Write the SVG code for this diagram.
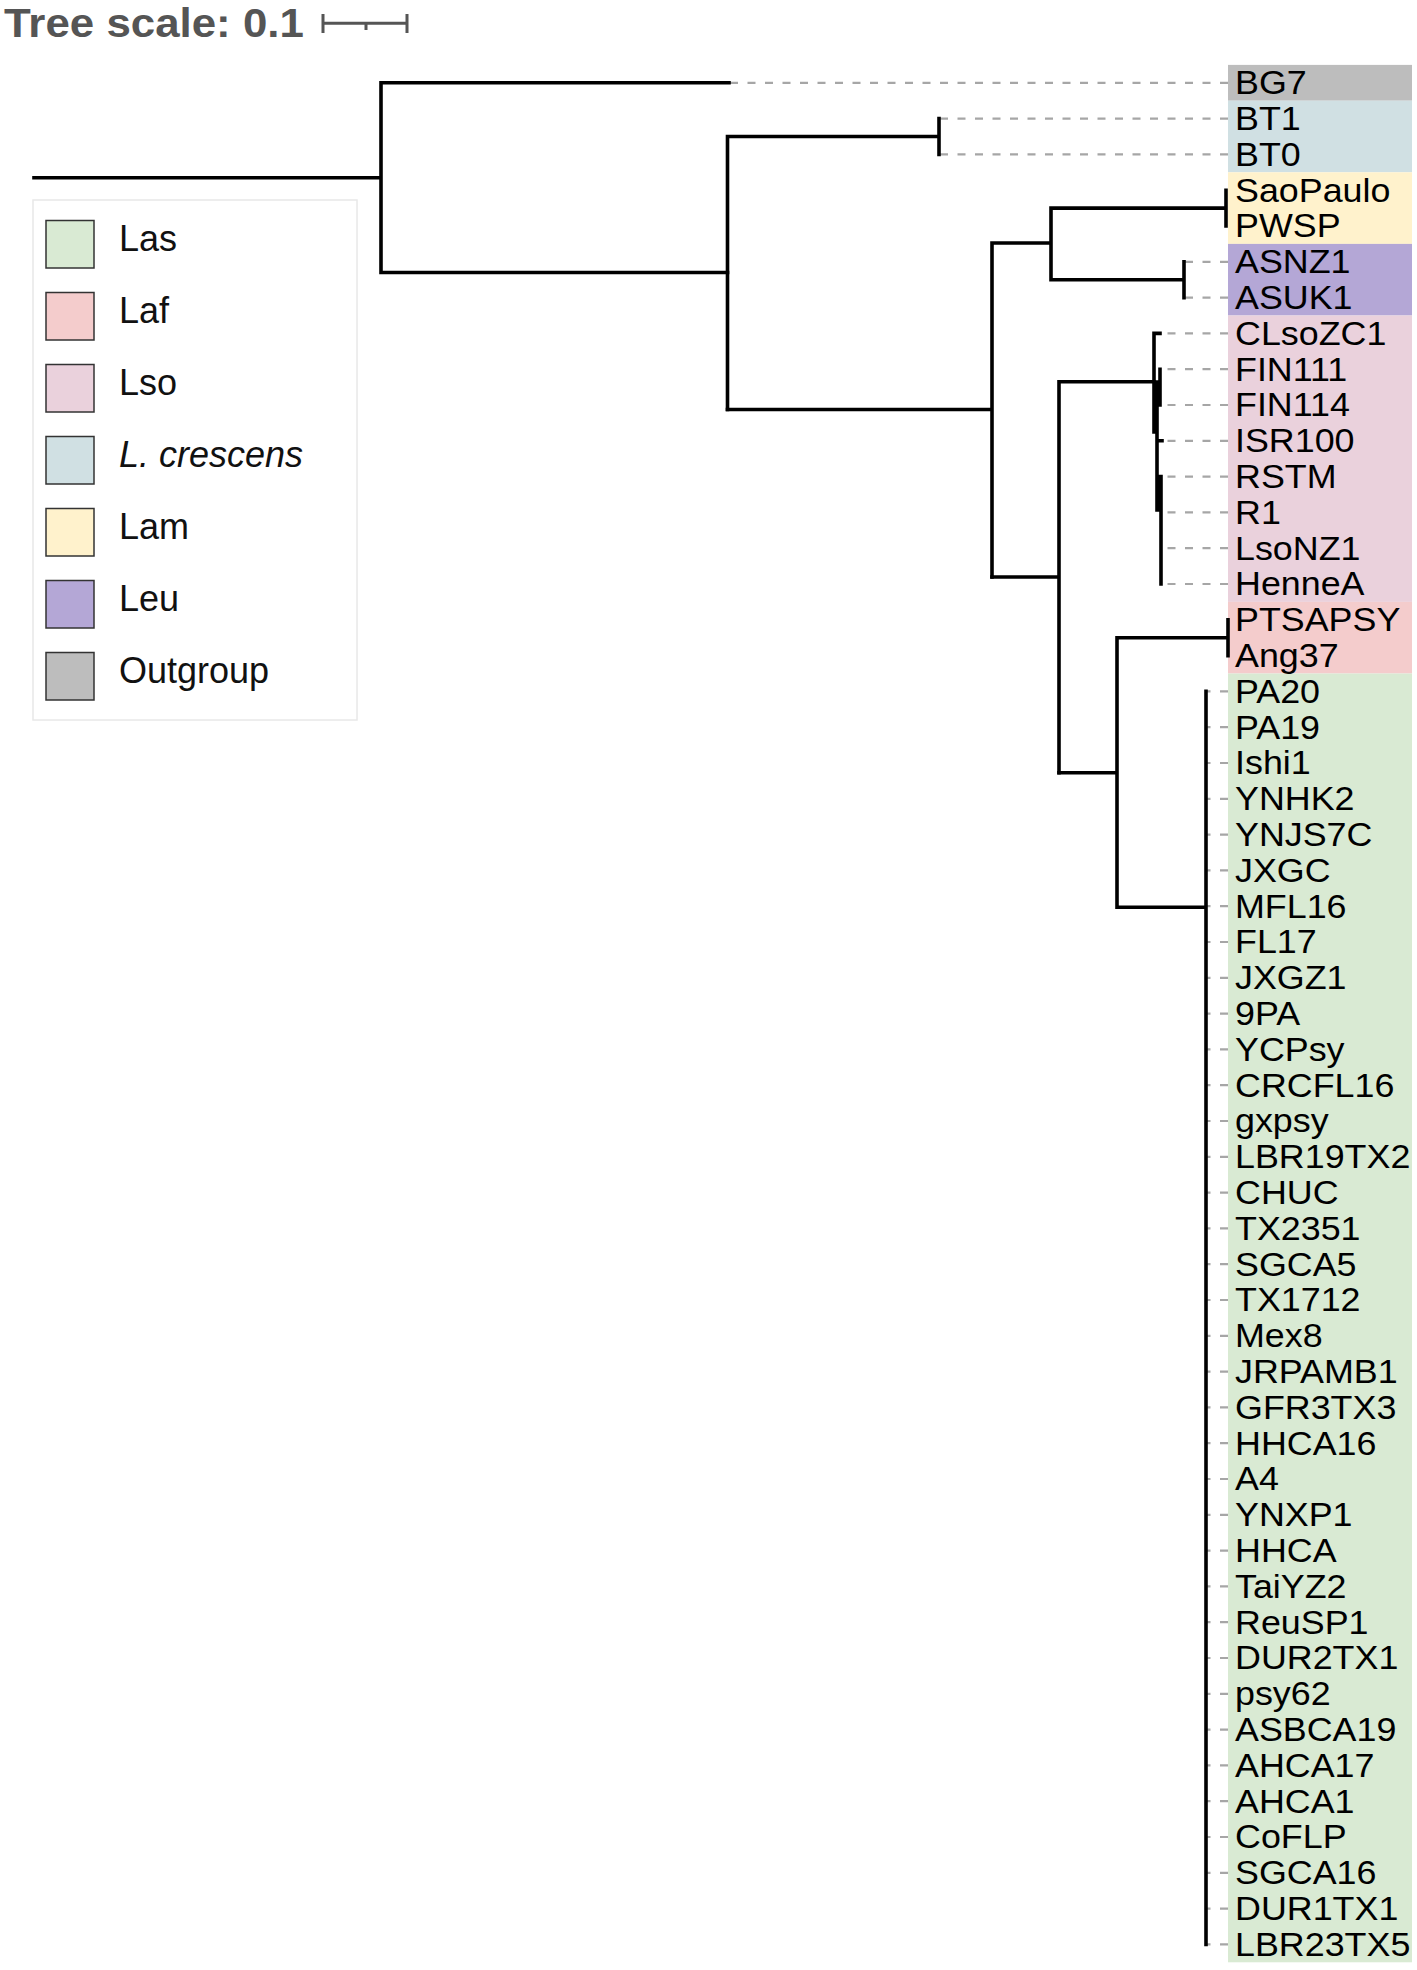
<svg xmlns="http://www.w3.org/2000/svg" width="1417" height="1970" viewBox="0 0 1417 1970">
<style>
.t{fill:none;stroke:#000;stroke-width:3.6;stroke-linecap:square}
.d{fill:none;stroke:#a6a6a6;stroke-width:2.2;stroke-dasharray:8 9.5}
.lab{font-family:"Liberation Sans",Arial,sans-serif;font-size:33.5px;fill:#000}
.leg{font-family:"Liberation Sans",Arial,sans-serif;font-size:36px;fill:#111}
.sw{stroke:#333;stroke-width:1.5}
</style>
<rect width="1417" height="1970" fill="#fff"/>
<g id="scale">
<text transform="translate(4,36.5) scale(1.07,1)" font-family="Liberation Sans,Arial,sans-serif" font-weight="bold" font-size="41" fill="#555">Tree scale: 0.1</text>
<path d="M323 23.3H407M323 14V33M407 14V33M366 23.3V30" fill="none" stroke="#555" stroke-width="3"/>
</g>
<g id="clades">
<rect x="1228" y="64.9" width="184" height="35.8" fill="#bdbdbd"/>
<rect x="1228" y="100.7" width="184" height="71.6" fill="#d0e0e3"/>
<rect x="1228" y="172.3" width="184" height="71.6" fill="#fff2cc"/>
<rect x="1228" y="243.9" width="184" height="71.6" fill="#b4a7d6"/>
<rect x="1228" y="315.5" width="184" height="286.4" fill="#ead1dc"/>
<rect x="1228" y="601.9" width="184" height="71.6" fill="#f4cccc"/>
<rect x="1228" y="673.5" width="184" height="1288.8" fill="#d9ead3"/>
</g>
<g id="connectors">
<g id="dashes">
<path class="d" d="M1228 82.8H729M1228 118.6H939M1228 154.4H939M1228 261.8H1184M1228 297.6H1184M1228 333.4H1160M1228 369.2H1161M1228 405H1161M1228 440.8H1162M1228 476.6H1162M1228 512.4H1162M1228 548.2H1162M1228 584H1162"/>
<path class="d" d="M1228 691.4H1206M1228 727.2H1206M1228 763H1206M1228 798.8H1206M1228 834.6H1206M1228 870.4H1206M1228 906.2H1206M1228 942H1206M1228 977.8H1206M1228 1013.6H1206M1228 1049.4H1206M1228 1085.2H1206M1228 1121H1206M1228 1156.8H1206M1228 1192.6H1206M1228 1228.4H1206M1228 1264.2H1206M1228 1300H1206M1228 1335.8H1206M1228 1371.6H1206M1228 1407.4H1206M1228 1443.2H1206M1228 1479H1206M1228 1514.8H1206M1228 1550.6H1206M1228 1586.4H1206M1228 1622.2H1206M1228 1658H1206M1228 1693.8H1206M1228 1729.6H1206M1228 1765.4H1206M1228 1801.2H1206M1228 1837H1206M1228 1872.8H1206M1228 1908.6H1206M1228 1944.4H1206"/>
</g>
<g id="branches">
<path class="t" d="M34 177.7H381M381 82.8V272.5M381 82.8H729M381 272.5H727.5"/>
<path class="t" d="M727.5 136.5V409.5M727.5 136.5H939M939 118.6V154.4"/>
<path class="t" d="M727.5 409.5H992M992 243V577M992 243H1051M1051 208.1V279.7M1051 208.1H1226M1226 190.2V226M1051 279.7H1184M1184 261.8V297.6"/>
<path class="t" d="M992 577H1059M1059 381.7V772.7M1059 381.7H1154"/>
<path class="t" d="M1154 333.4V432M1154 333.4H1160M1157 382V432M1160 369.2V405M1157 387H1160M1157 432V510M1157 440.8H1162M1159 476.6V510M1161 476.6V584"/>
<path class="t" d="M1059 772.7H1117M1117 637.7V907.3M1117 637.7H1228M1228 619.8V655.6M1117 907.3H1206M1206 691.4V1944.4"/>
</g>
</g>
<g id="leaves" transform="translate(1235,0) scale(1.07,1)" class="lab">
<text id="BG7" x="0" y="94.3">BG7</text>
<text id="BT1" x="0" y="130.1">BT1</text>
<text id="BT0" x="0" y="165.9">BT0</text>
<text id="SaoPaulo" x="0" y="201.7">SaoPaulo</text>
<text id="PWSP" x="0" y="237.5">PWSP</text>
<text id="ASNZ1" x="0" y="273.3">ASNZ1</text>
<text id="ASUK1" x="0" y="309.1">ASUK1</text>
<text id="CLsoZC1" x="0" y="344.9">CLsoZC1</text>
<text id="FIN111" x="0" y="380.7">FIN111</text>
<text id="FIN114" x="0" y="416.5">FIN114</text>
<text id="ISR100" x="0" y="452.3">ISR100</text>
<text id="RSTM" x="0" y="488.1">RSTM</text>
<text id="R1" x="0" y="523.9">R1</text>
<text id="LsoNZ1" x="0" y="559.7">LsoNZ1</text>
<text id="HenneA" x="0" y="595.5">HenneA</text>
<text id="PTSAPSY" x="0" y="631.3">PTSAPSY</text>
<text id="Ang37" x="0" y="667.1">Ang37</text>
<text id="PA20" x="0" y="702.9">PA20</text>
<text id="PA19" x="0" y="738.7">PA19</text>
<text id="Ishi1" x="0" y="774.5">Ishi1</text>
<text id="YNHK2" x="0" y="810.3">YNHK2</text>
<text id="YNJS7C" x="0" y="846.1">YNJS7C</text>
<text id="JXGC" x="0" y="881.9">JXGC</text>
<text id="MFL16" x="0" y="917.7">MFL16</text>
<text id="FL17" x="0" y="953.5">FL17</text>
<text id="JXGZ1" x="0" y="989.3">JXGZ1</text>
<text id="n9PA" x="0" y="1025.1">9PA</text>
<text id="YCPsy" x="0" y="1060.9">YCPsy</text>
<text id="CRCFL16" x="0" y="1096.7">CRCFL16</text>
<text id="gxpsy" x="0" y="1132.5">gxpsy</text>
<text id="LBR19TX2" x="0" y="1168.3">LBR19TX2</text>
<text id="CHUC" x="0" y="1204.1">CHUC</text>
<text id="TX2351" x="0" y="1239.9">TX2351</text>
<text id="SGCA5" x="0" y="1275.7">SGCA5</text>
<text id="TX1712" x="0" y="1311.5">TX1712</text>
<text id="Mex8" x="0" y="1347.3">Mex8</text>
<text id="JRPAMB1" x="0" y="1383.1">JRPAMB1</text>
<text id="GFR3TX3" x="0" y="1418.9">GFR3TX3</text>
<text id="HHCA16" x="0" y="1454.7">HHCA16</text>
<text id="A4" x="0" y="1490.5">A4</text>
<text id="YNXP1" x="0" y="1526.3">YNXP1</text>
<text id="HHCA" x="0" y="1562.1">HHCA</text>
<text id="TaiYZ2" x="0" y="1597.9">TaiYZ2</text>
<text id="ReuSP1" x="0" y="1633.7">ReuSP1</text>
<text id="DUR2TX1" x="0" y="1669.5">DUR2TX1</text>
<text id="psy62" x="0" y="1705.3">psy62</text>
<text id="ASBCA19" x="0" y="1741.1">ASBCA19</text>
<text id="AHCA17" x="0" y="1776.9">AHCA17</text>
<text id="AHCA1" x="0" y="1812.7">AHCA1</text>
<text id="CoFLP" x="0" y="1848.5">CoFLP</text>
<text id="SGCA16" x="0" y="1884.3">SGCA16</text>
<text id="DUR1TX1" x="0" y="1920.1">DUR1TX1</text>
<text id="LBR23TX5" x="0" y="1955.9">LBR23TX5</text>
</g>
<g id="legend">
<rect x="33" y="200" width="324" height="520" fill="#fff" stroke="#e8e8e8" stroke-width="1.5"/>
<g id="leg-Las"><rect class="sw" x="46" y="220.5" width="48" height="47.5" fill="#d9ead3"/><text class="leg" x="119" y="251">Las</text></g>
<g id="leg-Laf"><rect class="sw" x="46" y="292.5" width="48" height="47.5" fill="#f4cccc"/><text class="leg" x="119" y="323">Laf</text></g>
<g id="leg-Lso"><rect class="sw" x="46" y="364.5" width="48" height="47.5" fill="#ead1dc"/><text class="leg" x="119" y="395">Lso</text></g>
<g id="leg-Lcr"><rect class="sw" x="46" y="436.5" width="48" height="47.5" fill="#d0e0e3"/><text class="leg" x="119" y="467" font-style="italic">L. crescens</text></g>
<g id="leg-Lam"><rect class="sw" x="46" y="508.5" width="48" height="47.5" fill="#fff2cc"/><text class="leg" x="119" y="539">Lam</text></g>
<g id="leg-Leu"><rect class="sw" x="46" y="580.5" width="48" height="47.5" fill="#b4a7d6"/><text class="leg" x="119" y="611">Leu</text></g>
<g id="leg-Out"><rect class="sw" x="46" y="652.5" width="48" height="47.5" fill="#bdbdbd"/><text class="leg" x="119" y="683">Outgroup</text></g>
</g>
</svg>
